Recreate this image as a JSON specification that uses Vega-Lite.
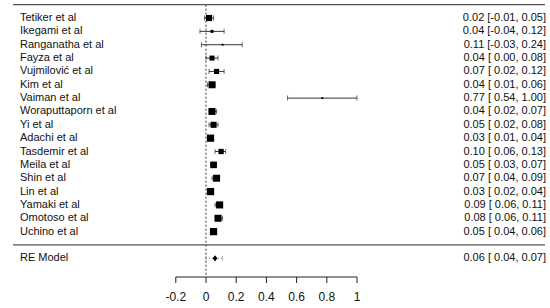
{
  "$schema": "https://vega.github.io/schema/vega-lite/v6.json",
  "width": 550,
  "height": 308,
  "autosize": "none",
  "padding": 0,
  "background": "white",
  "config": {"view": {"stroke": null}, "font": "Liberation Sans"},
  "datasets": {
    "studies": [
      {"study": "Tetiker et al", "row": 17, "est": 0.02, "lo": -0.01, "hi": 0.05, "weight": 6.2, "ci": "0.02 [-0.01, 0.05]"},
      {"study": "Ikegami et al", "row": 16, "est": 0.04, "lo": -0.04, "hi": 0.12, "weight": 3.0, "ci": "0.04 [-0.04, 0.12]"},
      {"study": "Ranganatha et al", "row": 15, "est": 0.11, "lo": -0.03, "hi": 0.24, "weight": 1.9, "ci": "0.11 [-0.03, 0.24]"},
      {"study": "Fayza et al", "row": 14, "est": 0.04, "lo": 0.0, "hi": 0.08, "weight": 5.0, "ci": "0.04 [ 0.00, 0.08]"},
      {"study": "Vujmilović et al", "row": 13, "est": 0.07, "lo": 0.02, "hi": 0.12, "weight": 5.1, "ci": "0.07 [ 0.02, 0.12]"},
      {"study": "Kim et al", "row": 12, "est": 0.04, "lo": 0.01, "hi": 0.06, "weight": 7.0, "ci": "0.04 [ 0.01, 0.06]"},
      {"study": "Vaiman et al", "row": 11, "est": 0.77, "lo": 0.54, "hi": 1.0, "weight": 1.9, "ci": "0.77 [ 0.54, 1.00]"},
      {"study": "Woraputtaporn et al", "row": 10, "est": 0.04, "lo": 0.02, "hi": 0.07, "weight": 7.0, "ci": "0.04 [ 0.02, 0.07]"},
      {"study": "Yi et al", "row": 9, "est": 0.05, "lo": 0.02, "hi": 0.08, "weight": 6.1, "ci": "0.05 [ 0.02, 0.08]"},
      {"study": "Adachi et al", "row": 8, "est": 0.03, "lo": 0.01, "hi": 0.04, "weight": 7.2, "ci": "0.03 [ 0.01, 0.04]"},
      {"study": "Tasdemir et al", "row": 7, "est": 0.1, "lo": 0.06, "hi": 0.13, "weight": 5.3, "ci": "0.10 [ 0.06, 0.13]"},
      {"study": "Meila et al", "row": 6, "est": 0.05, "lo": 0.03, "hi": 0.07, "weight": 6.6, "ci": "0.05 [ 0.03, 0.07]"},
      {"study": "Shin et al", "row": 5, "est": 0.07, "lo": 0.04, "hi": 0.09, "weight": 7.0, "ci": "0.07 [ 0.04, 0.09]"},
      {"study": "Lin et al", "row": 4, "est": 0.03, "lo": 0.02, "hi": 0.04, "weight": 7.3, "ci": "0.03 [ 0.02, 0.04]"},
      {"study": "Yamaki et al", "row": 3, "est": 0.09, "lo": 0.06, "hi": 0.11, "weight": 7.1, "ci": "0.09 [ 0.06, 0.11]"},
      {"study": "Omotoso et al", "row": 2, "est": 0.08, "lo": 0.06, "hi": 0.11, "weight": 7.0, "ci": "0.08 [ 0.06, 0.11]"},
      {"study": "Uchino et al", "row": 1, "est": 0.05, "lo": 0.04, "hi": 0.06, "weight": 7.3, "ci": "0.05 [ 0.04, 0.06]"}
    ],
    "re": [
      {"study": "RE Model", "row": -1, "est": 0.06, "lo": 0.04, "hi": 0.07, "pilo": 0.0, "pihi": 0.11, "ci": "0.06 [ 0.04, 0.07]"}
    ],
    "ticks": [
      {"v": -0.2, "label": "-0.2"},
      {"v": 0, "label": "0"},
      {"v": 0.2, "label": "0.2"},
      {"v": 0.4, "label": "0.4"},
      {"v": 0.6, "label": "0.6"},
      {"v": 0.8, "label": "0.8"},
      {"v": 1, "label": "1"}
    ]
  },
  "layer": [
    {
      "data": {"name": "re"},
      "mark": {"type": "rule", "strokeDash": [2, 2], "color": "#333", "strokeWidth": 1},
      "encoding": {
        "x": {"datum": 0, "type": "quantitative", "scale": {"domain": [-1.3642, 2.2781], "nice": false, "zero": false}, "axis": null},
        "y": {"datum": 18, "type": "quantitative", "scale": {"domain": [-4.722, 18.35], "nice": false, "zero": false}, "axis": null},
        "y2": {"datum": -2.25}
      }
    },
    {
      "data": {"name": "re"},
      "mark": {"type": "rule", "color": "#222", "strokeWidth": 1},
      "encoding": {
        "x": {"datum": -0.2, "type": "quantitative", "scale": {"domain": [-1.3642, 2.2781], "nice": false, "zero": false}, "axis": null},
        "x2": {"datum": 1},
        "y": {"datum": -2.4, "type": "quantitative", "scale": {"domain": [-4.722, 18.35], "nice": false, "zero": false}, "axis": null}
      }
    },
    {
      "data": {"name": "ticks"},
      "mark": {"type": "rule", "color": "#222", "strokeWidth": 1},
      "encoding": {
        "x": {"field": "v", "type": "quantitative", "scale": {"domain": [-1.3642, 2.2781], "nice": false, "zero": false}, "axis": null},
        "y": {"datum": -2.4, "type": "quantitative", "scale": {"domain": [-4.722, 18.35], "nice": false, "zero": false}, "axis": null},
        "y2": {"datum": -2.85}
      }
    },
    {
      "data": {"name": "ticks"},
      "mark": {"type": "text", "align": "center", "baseline": "middle", "fontSize": 12, "color": "#111"},
      "encoding": {
        "x": {"field": "v", "type": "quantitative", "scale": {"domain": [-1.3642, 2.2781], "nice": false, "zero": false}, "axis": null},
        "y": {"datum": -3.87, "type": "quantitative", "scale": {"domain": [-4.722, 18.35], "nice": false, "zero": false}, "axis": null},
        "text": {"field": "label"}
      }
    },
    {
      "data": {"name": "re"},
      "mark": {"type": "rule", "color": "#555", "strokeWidth": 1.3},
      "encoding": {
        "x": {"datum": -1.278, "type": "quantitative", "scale": {"domain": [-1.3642, 2.2781], "nice": false, "zero": false}, "axis": null},
        "x2": {"datum": 2.245},
        "y": {"datum": 18, "type": "quantitative", "scale": {"domain": [-4.722, 18.35], "nice": false, "zero": false}, "axis": null}
      }
    },
    {
      "data": {"name": "re"},
      "mark": {"type": "rule", "color": "#555", "strokeWidth": 1.3},
      "encoding": {
        "x": {"datum": -1.278, "type": "quantitative", "scale": {"domain": [-1.3642, 2.2781], "nice": false, "zero": false}, "axis": null},
        "x2": {"datum": 2.245},
        "y": {"datum": 0, "type": "quantitative", "scale": {"domain": [-4.722, 18.35], "nice": false, "zero": false}, "axis": null}
      }
    },
    {
      "data": {"name": "studies"},
      "mark": {"type": "rule", "color": "#333", "strokeWidth": 1},
      "encoding": {
        "x": {"field": "lo", "type": "quantitative", "scale": {"domain": [-1.3642, 2.2781], "nice": false, "zero": false}, "axis": null},
        "x2": {"field": "hi"},
        "y": {"field": "row", "type": "quantitative", "scale": {"domain": [-4.722, 18.35], "nice": false, "zero": false}, "axis": null}
      }
    },
    {
      "data": {"name": "studies"},
      "mark": {"type": "tick", "orient": "vertical", "color": "#333", "thickness": 1, "size": 5},
      "encoding": {
        "x": {"field": "lo", "type": "quantitative", "scale": {"domain": [-1.3642, 2.2781], "nice": false, "zero": false}, "axis": null},
        "y": {"field": "row", "type": "quantitative", "scale": {"domain": [-4.722, 18.35], "nice": false, "zero": false}, "axis": null}
      }
    },
    {
      "data": {"name": "studies"},
      "mark": {"type": "tick", "orient": "vertical", "color": "#333", "thickness": 1, "size": 5},
      "encoding": {
        "x": {"field": "hi", "type": "quantitative", "scale": {"domain": [-1.3642, 2.2781], "nice": false, "zero": false}, "axis": null},
        "y": {"field": "row", "type": "quantitative", "scale": {"domain": [-4.722, 18.35], "nice": false, "zero": false}, "axis": null}
      }
    },
    {
      "data": {"name": "studies"},
      "mark": {"type": "point", "shape": "square", "filled": true, "color": "#000", "opacity": 1},
      "encoding": {
        "x": {"field": "est", "type": "quantitative", "scale": {"domain": [-1.3642, 2.2781], "nice": false, "zero": false}, "axis": null},
        "y": {"field": "row", "type": "quantitative", "scale": {"domain": [-4.722, 18.35], "nice": false, "zero": false}, "axis": null},
        "size": {"field": "weight", "type": "quantitative", "scale": {"type": "pow", "exponent": 2, "domain": [0, 7.3], "range": [0, 53]}, "legend": null}
      }
    },
    {
      "data": {"name": "studies"},
      "mark": {"type": "text", "align": "left", "baseline": "middle", "fontSize": 11, "color": "#111"},
      "encoding": {
        "x": {"datum": -1.2318, "type": "quantitative", "scale": {"domain": [-1.3642, 2.2781], "nice": false, "zero": false}, "axis": null},
        "y": {"field": "row", "type": "quantitative", "scale": {"domain": [-4.722, 18.35], "nice": false, "zero": false}, "axis": null},
        "text": {"field": "study"}
      }
    },
    {
      "data": {"name": "studies"},
      "mark": {"type": "text", "align": "right", "baseline": "middle", "fontSize": 11, "color": "#111"},
      "encoding": {
        "x": {"datum": 2.2517, "type": "quantitative", "scale": {"domain": [-1.3642, 2.2781], "nice": false, "zero": false}, "axis": null},
        "y": {"field": "row", "type": "quantitative", "scale": {"domain": [-4.722, 18.35], "nice": false, "zero": false}, "axis": null},
        "text": {"field": "ci"}
      }
    },
    {
      "data": {"name": "re"},
      "mark": {"type": "rule", "color": "#888", "strokeWidth": 1, "strokeDash": [1, 2]},
      "encoding": {
        "x": {"field": "pilo", "type": "quantitative", "scale": {"domain": [-1.3642, 2.2781], "nice": false, "zero": false}, "axis": null},
        "x2": {"field": "pihi"},
        "y": {"field": "row", "type": "quantitative", "scale": {"domain": [-4.722, 18.35], "nice": false, "zero": false}, "axis": null}
      }
    },
    {
      "data": {"name": "re"},
      "mark": {"type": "tick", "orient": "vertical", "color": "#999", "thickness": 1, "size": 5},
      "encoding": {
        "x": {"field": "pilo", "type": "quantitative", "scale": {"domain": [-1.3642, 2.2781], "nice": false, "zero": false}, "axis": null},
        "y": {"field": "row", "type": "quantitative", "scale": {"domain": [-4.722, 18.35], "nice": false, "zero": false}, "axis": null}
      }
    },
    {
      "data": {"name": "re"},
      "mark": {"type": "tick", "orient": "vertical", "color": "#999", "thickness": 1, "size": 5},
      "encoding": {
        "x": {"field": "pihi", "type": "quantitative", "scale": {"domain": [-1.3642, 2.2781], "nice": false, "zero": false}, "axis": null},
        "y": {"field": "row", "type": "quantitative", "scale": {"domain": [-4.722, 18.35], "nice": false, "zero": false}, "axis": null}
      }
    },
    {
      "data": {"name": "re"},
      "mark": {"type": "point", "shape": "M0,-1L0.75,0L0,1L-0.75,0Z", "filled": true, "color": "#000", "opacity": 1, "size": 40},
      "encoding": {
        "x": {"field": "est", "type": "quantitative", "scale": {"domain": [-1.3642, 2.2781], "nice": false, "zero": false}, "axis": null},
        "y": {"field": "row", "type": "quantitative", "scale": {"domain": [-4.722, 18.35], "nice": false, "zero": false}, "axis": null}
      }
    },
    {
      "data": {"name": "re"},
      "mark": {"type": "text", "align": "left", "baseline": "middle", "fontSize": 11, "color": "#111"},
      "encoding": {
        "x": {"datum": -1.2318, "type": "quantitative", "scale": {"domain": [-1.3642, 2.2781], "nice": false, "zero": false}, "axis": null},
        "y": {"field": "row", "type": "quantitative", "scale": {"domain": [-4.722, 18.35], "nice": false, "zero": false}, "axis": null},
        "text": {"field": "study"}
      }
    },
    {
      "data": {"name": "re"},
      "mark": {"type": "text", "align": "right", "baseline": "middle", "fontSize": 11, "color": "#111"},
      "encoding": {
        "x": {"datum": 2.2517, "type": "quantitative", "scale": {"domain": [-1.3642, 2.2781], "nice": false, "zero": false}, "axis": null},
        "y": {"field": "row", "type": "quantitative", "scale": {"domain": [-4.722, 18.35], "nice": false, "zero": false}, "axis": null},
        "text": {"field": "ci"}
      }
    }
  ]
}
